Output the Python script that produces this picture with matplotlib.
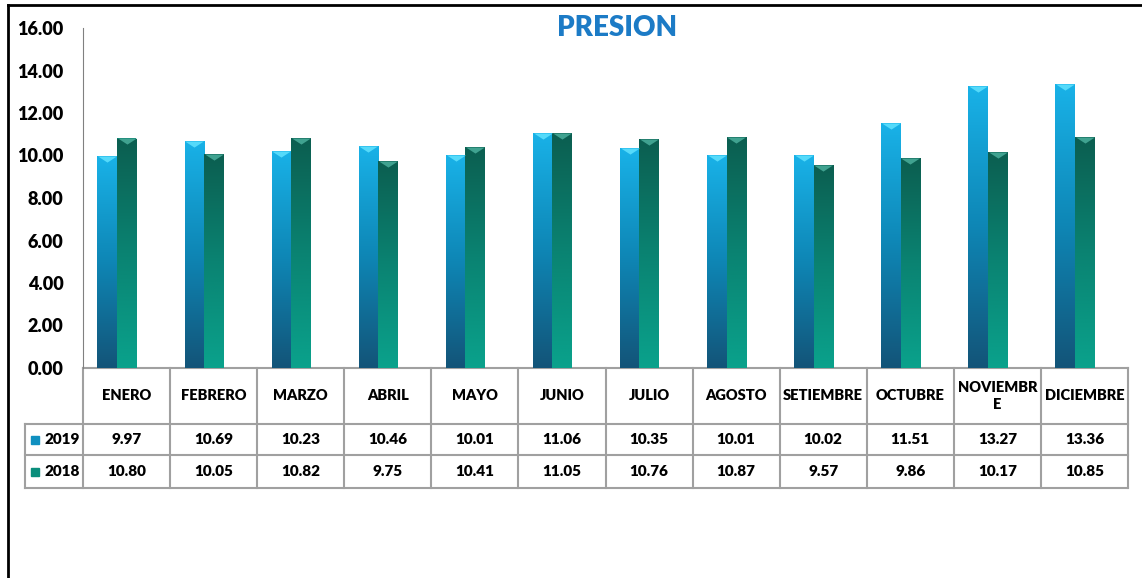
import numpy as np
import matplotlib
matplotlib.use("Agg")
import matplotlib.pyplot as plt
from matplotlib.colors import LinearSegmentedColormap
from matplotlib.transforms import blended_transform_factory
from matplotlib.lines import Line2D

# --- donnees ---
meses = ["ENERO", "FEBRERO", "MARZO", "ABRIL", "MAYO", "JUNIO", "JULIO",
         "AGOSTO", "SETIEMBRE", "OCTUBRE", "NOVIEMBR\nE", "DICIEMBRE"]
p2019 = [9.97, 10.69, 10.23, 10.46, 10.01, 11.06, 10.35, 10.01, 10.02, 11.51, 13.27, 13.36]
p2018 = [10.80, 10.05, 10.82, 9.75, 10.41, 11.05, 10.76, 10.87, 9.57, 9.86, 10.17, 10.85]
series = ["2019", "2018"]
yticks = [0, 2, 4, 6, 8, 10, 12, 14, 16]

plt.rcParams['font.family'] = ['Lato', 'DejaVu Sans']
fw = 'heavy'

fig = plt.figure(figsize=(11.42, 5.78), dpi=100)
ax = fig.add_axes([83/1142, 1 - 368/578, (1128 - 83)/1142, 340/578])

x = np.arange(len(meses))
w = 0.224
off = -0.11
b1 = ax.bar(x + off - w/2, p2019, w, color='#0E86B5', zorder=2)
b2 = ax.bar(x + off + w/2, p2018, w, color='#0A8070', zorder=2)

cm19 = LinearSegmentedColormap.from_list('c19', ['#135478', '#0E86B5', '#19B2E8'])
cm18 = LinearSegmentedColormap.from_list('c18', ['#0AA28C', '#0A8372', '#0C5E50'])
grad = np.linspace(0, 1, 256).reshape(-1, 1)

# degrade vertical dans chaque barre
for bars, cm in ((b1, cm19), (b2, cm18)):
    for p in bars:
        bx, bw, bh = p.get_x(), p.get_width(), p.get_height()
        im = ax.imshow(grad, extent=[bx, bx + bw, 0, bh], origin='lower',
                       aspect='auto', cmap=cm, zorder=3)
        im.set_clip_path(p)

# petit biseau en haut des barres
tri = [(-1, 0), (1, 0), (0, -0.65), (-1, 0)]
ax.plot(x + off - w/2, p2019, ls='none', marker=tri, ms=13.5, color='#55DAFA',
        mec='none', zorder=4)
ax.plot(x + off + w/2, p2018, ls='none', marker=tri, ms=13.5, color='#40A290',
        mec='none', zorder=4)

ax.set_xlim(-0.5, 11.5)
ax.set_ylim(0, 16)
ax.set_yticks(yticks)
ax.set_yticklabels([f"{v:.2f}" for v in yticks], fontsize=13, fontweight=fw)
ax.tick_params(axis='y', length=0, pad=14)
ax.tick_params(axis='x', length=0, labelbottom=False)
for s in ['top', 'right', 'bottom']:
    ax.spines[s].set_visible(False)
ax.spines['left'].set_color('#808080')

# --- tableau de donnees ---
tr = blended_transform_factory(ax.transData, ax.transAxes)
gris = '#A0A0A0'
xl = -0.5 - 58/87.08
y_h = -56/340
y_1 = -87/340
y_2 = -120/340

ax.add_line(Line2D([-0.5, 11.5], [0, 0], transform=tr, color=gris, lw=1.5, clip_on=False))
for yy in (y_h, y_1, y_2):
    ax.add_line(Line2D([xl, 11.5], [yy, yy], transform=tr, color=gris, lw=1.5, clip_on=False))
for i in range(13):
    ax.add_line(Line2D([i - 0.5, i - 0.5], [0, y_2], transform=tr, color=gris, lw=1.5, clip_on=False))
ax.add_line(Line2D([xl, xl], [y_h, y_2], transform=tr, color=gris, lw=1.5, clip_on=False))

for i, m in enumerate(meses):
    ax.text(i, y_h/2, m, transform=tr, ha='center', va='center', fontsize=10.5,
            fontweight=fw, linespacing=1.4)
    ax.text(i, (y_h + y_1)/2, f"{p2019[i]:.2f}", transform=tr, ha='center',
            va='center', fontsize=11, fontweight=fw)
    ax.text(i, (y_1 + y_2)/2, f"{p2018[i]:.2f}", transform=tr, ha='center',
            va='center', fontsize=11, fontweight=fw)

for name, yc, col in ((series[0], (y_h + y_1)/2, '#1090C0'), (series[1], (y_1 + y_2)/2, '#0A8E7C')):
    ax.plot([xl + 0.12], [yc], 's', ms=6, color=col, transform=tr, clip_on=False)
    ax.text(xl + 0.22, yc, name, transform=tr, ha='left', va='center',
            fontsize=11, fontweight=fw)

# titre
fig.text(617/1142, 1 - 28/578, "PRESION", ha='center', va='center',
         fontsize=20, fontweight=fw, color='#1C7BC6')

# cadre
fig.add_artist(Line2D([8/1142, 1], [1 - 5/578, 1 - 5/578], transform=fig.transFigure,
                      color='black', lw=2))
fig.add_artist(Line2D([8/1142, 8/1142], [0, 1 - 5/578], transform=fig.transFigure,
                      color='black', lw=2))

fig.savefig("out.png", dpi=100)
